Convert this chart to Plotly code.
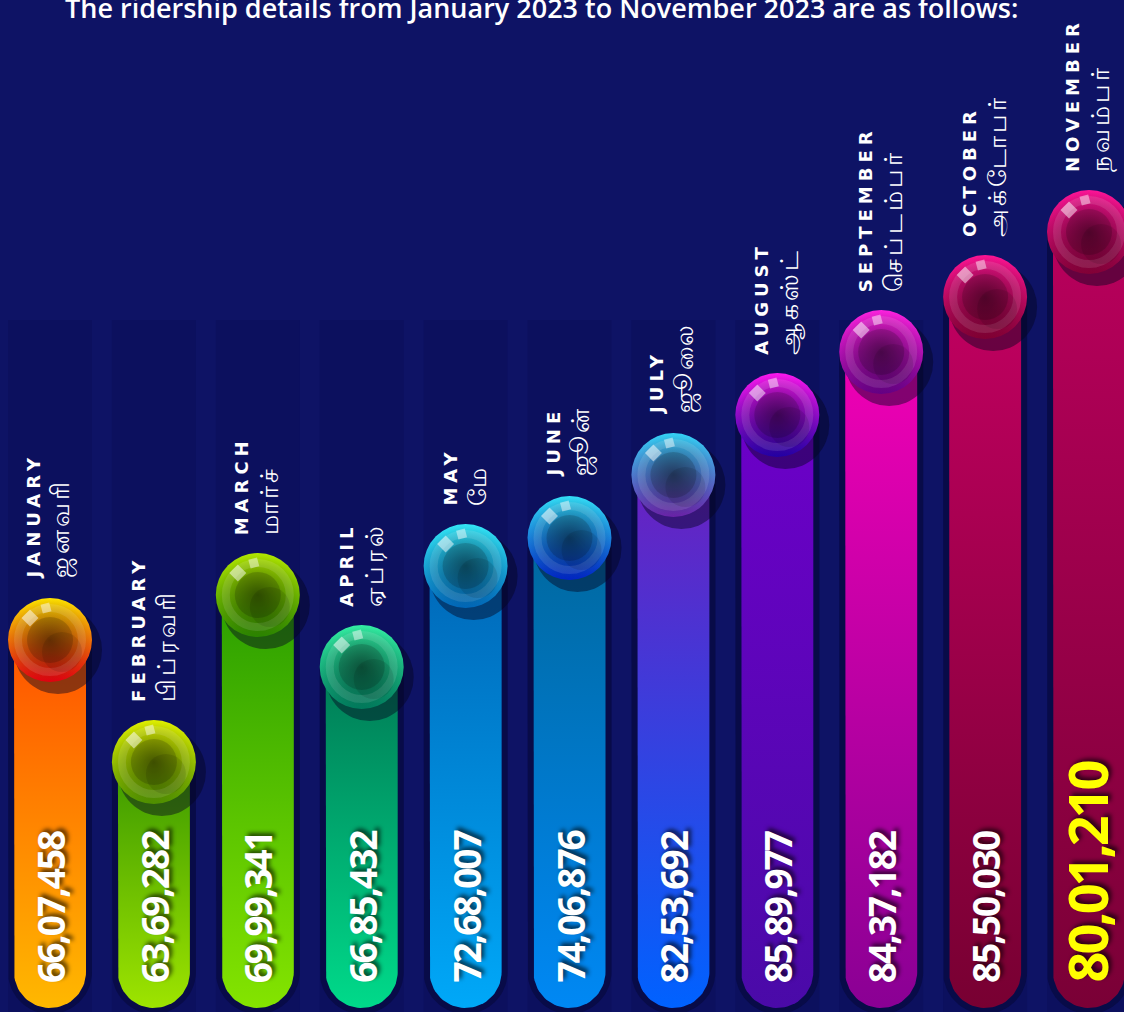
import plotly.graph_objects as go
import numpy as np

# ---------------- data ----------------
title_text = "The ridership details from January 2023 to November 2023 are as follows:"
months_en = ["JANUARY", "FEBRUARY", "MARCH", "APRIL", "MAY", "JUNE",
             "JULY", "AUGUST", "SEPTEMBER", "OCTOBER", "NOVEMBER"]
months_ta = ["ஜனவரி", "பிப்ரவரி", "மார்ச்", "ஏப்ரல்", "மே", "ஜூன்",
             "ஜூலை", "ஆகஸ்ட்", "செப்டம்பர்", "அக்டோபர்", "நவம்பர்"]
ridership = [6607458, 6369282, 6999341, 6685432, 7268007, 7406876,
             8253692, 8589977, 8437182, 8550030, 8001210]
# drawn level of each bar (decorative scale)
bar_level = [372, 250, 417, 345, 446, 474, 537, 597, 660, 715, 780]

# ---------------- styles ----------------
bar_top = ["#ff5200", "#3a9800", "#2a9e00", "#007a55", "#0068b8", "#00689e",
           "#6a20c0", "#6c00c8", "#f000b4", "#c00060", "#b8005c"]
bar_bot = ["#ffb800", "#9ee400", "#84e400", "#00da8a", "#00a8f8", "#0088f4",
           "#0062ff", "#4a0aa8", "#8a0094", "#780032", "#7a0036"]
sph_top = ["#ffe400", "#e2f200", "#b4ea00", "#34f0a4", "#34e8f8", "#34e0f8",
           "#34d4f8", "#ff18f0", "#ff22e0", "#ff1494", "#ff1498"]
sph_bot = ["#e00010", "#4e9000", "#2a8400", "#007a5c", "#0066b8", "#0024c4",
           "#6a22a8", "#2200a4", "#640084", "#800032", "#820036"]
bg = "#0e1365"
stripe = "#0c105e"

n = len(months_en)
idx = list(range(n))
px_per_x = 103.9
fig_w, fig_h = 1124, 1012
x0 = -50 / px_per_x
x_range = [x0, x0 + fig_w / px_per_x]


def fmt_indian(v):
    s = str(v)
    last3 = s[-3:]
    rest = s[:-3]
    parts = []
    while len(rest) > 2:
        parts.insert(0, rest[-2:])
        rest = rest[:-2]
    if rest:
        parts.insert(0, rest)
    return ",".join(parts + [last3])


def rounded_bar(c, top, half_w_px, bottom, r_px):
    rx = half_w_px / px_per_x
    th = np.linspace(np.pi, 2 * np.pi, 40)
    xs = [c - rx, c - rx]
    ys = [top, bottom + r_px]
    xs += list(c + rx * np.cos(th))
    ys += list(bottom + r_px + r_px * np.sin(th))
    xs += [c + rx, c + rx, c - rx]
    ys += [bottom + r_px, top, top]
    return xs, ys


fig = go.Figure()

# column stripes in the background
shapes = []
for i in idx:
    shapes.append(dict(type="rect", xref="x", yref="y", layer="below",
                       x0=i - 42 / px_per_x, x1=i + 42 / px_per_x,
                       y0=0, y1=fig_h - 320, fillcolor=stripe, line_width=0))

bottom = 4
for i in idx:
    h = bar_level[i]
    # dark rim
    xs, ys = rounded_bar(i, h, 42, bottom - 6, 42)
    fig.add_trace(go.Scatter(x=xs, y=ys, mode="lines", fill="toself",
                             fillcolor="#080b48", line=dict(width=0),
                             hoverinfo="skip", showlegend=False))
    # bar with vertical gradient
    xs, ys = rounded_bar(i, h, 36, bottom, 36)
    fig.add_trace(go.Scatter(x=xs, y=ys, mode="lines", fill="toself",
                             fillgradient=dict(type="vertical", start=bottom, stop=h,
                                               colorscale=[[0, bar_bot[i]], [1, bar_top[i]]]),
                             line=dict(width=0), hoverinfo="skip", showlegend=False))

# sphere shadows
fig.add_trace(go.Scatter(x=[i + 8 / px_per_x for i in idx], y=[h - 10 for h in bar_level],
                         mode="markers", hoverinfo="skip", showlegend=False,
                         marker=dict(size=88, color="rgba(4,4,30,0.45)", line_width=0)))
# spheres: vertical gradient (gradient.color = bottom colour)
fig.add_trace(go.Scatter(x=idx, y=bar_level, mode="markers", hoverinfo="skip", showlegend=False,
                         marker=dict(size=84, color=sph_top, line=dict(width=0),
                                     gradient=dict(type="vertical", color=sph_bot))))
# radial darkening towards the centre (gradient.color = centre colour)
fig.add_trace(go.Scatter(x=idx, y=bar_level, mode="markers", hoverinfo="skip", showlegend=False,
                         marker=dict(size=84, color="rgba(0,0,0,0)", line=dict(width=0),
                                     gradient=dict(type="radial", color="rgba(0,0,0,0.45)"))))
# inner core
fig.add_trace(go.Scatter(x=idx, y=bar_level, mode="markers", hoverinfo="skip", showlegend=False,
                         marker=dict(size=46, color="rgba(0,0,0,0.16)",
                                     line=dict(width=0))))
# glass ring
fig.add_trace(go.Scatter(x=idx, y=bar_level, mode="markers", hoverinfo="skip", showlegend=False,
                         marker=dict(size=64, symbol="circle-open",
                                     color="rgba(255,255,255,0.11)",
                                     line=dict(width=8))))
# lower-right darker lobe
fig.add_trace(go.Scatter(x=[i + 12 / px_per_x for i in idx], y=[h - 12 for h in bar_level],
                         mode="markers", hoverinfo="skip", showlegend=False,
                         marker=dict(size=40, color="rgba(0,0,0,0.10)", line_width=0)))
# highlights
fig.add_trace(go.Scatter(x=[i - 20 / px_per_x for i in idx], y=[h + 22 for h in bar_level],
                         mode="markers", hoverinfo="skip", showlegend=False,
                         marker=dict(size=12, symbol="square", angle=-45,
                                     color="rgba(255,255,255,0.5)")))
fig.add_trace(go.Scatter(x=[i - 4 / px_per_x for i in idx], y=[h + 32 for h in bar_level],
                         mode="markers", hoverinfo="skip", showlegend=False,
                         marker=dict(size=9, symbol="square", angle=-15,
                                     color="rgba(255,255,255,0.45)")))

annotations = []
# value labels
for i in idx:
    last = (i == n - 1)
    annotations.append(dict(
        x=i - (3 / px_per_x if last else 0), y=27, xref="x", yref="y",
        xanchor="center", yanchor="bottom",
        text="<span style='letter-spacing:%s'><b>%s</b></span>"
             % ("-3px" if last else "-2px", fmt_indian(ridership[i])),
        textangle=-90, showarrow=False,
        font=dict(family="Noto Sans, DejaVu Sans Condensed, sans-serif",
                  size=54 if last else 37, color="#ffff00" if last else "#ffffff",
                  shadow="3px 3px 4px rgba(0,0,0,0.65)")))
# month labels
for i in idx:
    annotations.append(dict(
        x=i, y=bar_level[i] + 42 + 16, xref="x", yref="y", xanchor="center", yanchor="bottom",
        text="<span style='font-size:18px;letter-spacing:5px'><b>%s</b></span><br>"
             "<span style='font-size:25px;letter-spacing:3px'>%s</span>" % (months_en[i], months_ta[i]),
        textangle=-90, showarrow=False, align="left",
        font=dict(family="DejaVu Sans, sans-serif", size=23, color="#ffffff")))
# title
annotations.append(dict(
    x=541 / fig_w, y=1 - 8 / fig_h, xref="paper", yref="paper", xanchor="center", yanchor="middle",
    text=title_text, showarrow=False,
    font=dict(family="Open Sans, sans-serif", size=27, weight=600, color="#ffffff")))

fig.update_layout(
    width=fig_w, height=fig_h, margin=dict(l=0, r=0, t=0, b=0),
    paper_bgcolor=bg, plot_bgcolor=bg, showlegend=False,
    xaxis=dict(range=x_range, visible=False, fixedrange=True),
    yaxis=dict(range=[0, fig_h], visible=False, fixedrange=True),
    shapes=shapes, annotations=annotations,
)

fig.write_html("out.html", config={"displayModeBar": False},
               post_script="document.body.style.margin='0';document.body.style.overflow='hidden';")
